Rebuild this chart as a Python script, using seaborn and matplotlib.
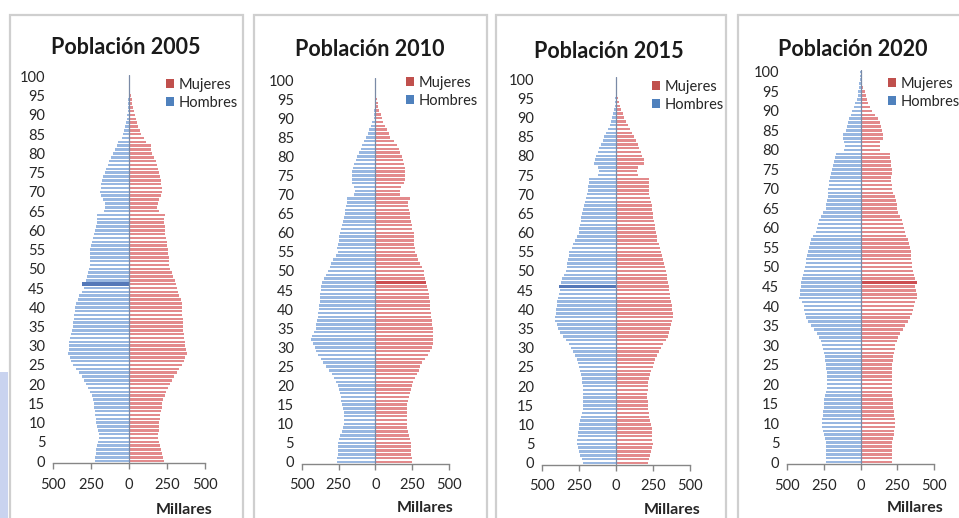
import matplotlib
matplotlib.use("Agg")
import matplotlib.pyplot as plt
from matplotlib.patches import Rectangle, Patch
import numpy as np
import pandas as pd
import seaborn as sns

# ---------------- data (thousands of people, ages 0..100) ----------------
ages = list(range(0, 101))
years = [2005, 2010, 2015, 2020]

hombres_2005 = [224, 222, 218, 214, 208, 202, 198, 200, 206, 212,
                218, 220, 222, 226, 230, 233, 238, 245, 255, 268,
                280, 295, 312, 330, 350, 369, 380, 390, 400, 398,
                396, 392, 386, 380, 375, 369, 366, 364, 362, 358,
                355, 348, 338, 326, 312, 296, 307, 285, 276, 268,
                262, 258, 256, 258, 256, 256, 250, 244, 236, 229,
                222, 216, 212, 208, 212, 165, 158, 160, 172, 185,
                188, 186, 182, 176, 168, 158, 150, 140, 130, 120,
                108, 95, 82, 70, 48, 40, 33, 27, 21, 16,
                12, 9, 7, 5, 4, 3, 2, 1, 1, 1, 1]
mujeres_2005 = [227, 222, 216, 210, 204, 198, 193, 193, 196, 198,
                200, 203, 206, 210, 214, 220, 226, 234, 244, 256,
                268, 282, 298, 315, 332, 348, 360, 370, 380, 376,
                371, 368, 364, 360, 358, 356, 354, 352, 351, 350,
                349, 346, 340, 332, 324, 316, 312, 300, 290, 280,
                268, 264, 262, 262, 258, 256, 252, 248, 244, 240,
                236, 234, 232, 230, 240, 196, 186, 188, 200, 212,
                216, 215, 212, 208, 204, 198, 192, 184, 176, 166,
                150, 146, 142, 110, 96, 82, 72, 62, 54, 48,
                42, 34, 28, 22, 17, 12, 9, 6, 4, 3, 2]

hombres_2010 = [260, 258, 256, 254, 255, 255, 248, 238, 228, 220,
                214, 212, 212, 214, 218, 225, 230, 236, 242, 248,
                255, 266, 280, 296, 318, 338, 355, 372, 390, 405,
                413, 425, 435, 430, 418, 406, 400, 396, 392, 388,
                383, 380, 378, 376, 374, 372, 368, 362, 350, 336,
                322, 310, 300, 285, 270, 255, 258, 256, 250, 244,
                237, 232, 226, 220, 214, 207, 203, 199, 195, 192,
                146, 140, 145, 158, 160, 158, 156, 150, 142, 132,
                124, 112, 100, 88, 74, 61, 50, 40, 30, 20,
                11, 8, 6, 4, 3, 2, 1, 1, 1, 1, 0.5]
mujeres_2010 = [248, 246, 244, 242, 242, 241, 236, 228, 220, 216,
                214, 212, 212, 213, 214, 214, 220, 226, 234, 241,
                248, 258, 270, 282, 294, 304, 320, 338, 356, 372,
                383, 390, 394, 393, 391, 390, 386, 382, 378, 375,
                372, 370, 368, 366, 363, 360, 352, 345, 340, 333,
                327, 318, 305, 292, 280, 270, 268, 265, 262, 260,
                259, 252, 246, 240, 236, 232, 228, 224, 220, 237,
                169, 164, 172, 192, 200, 203, 203, 200, 196, 188,
                180, 170, 158, 144, 128, 101, 90, 78, 66, 55,
                45, 36, 28, 21, 15, 10, 7, 5, 3, 2, 1]

hombres_2015 = [221, 230, 240, 250, 258, 266, 262, 258, 254, 250,
                248, 244, 238, 232, 226, 221, 220, 220, 222, 224,
                225, 228, 232, 238, 245, 252, 258, 266, 278, 290,
                304, 320, 340, 360, 380, 394, 402, 410, 410, 408,
                406, 402, 396, 390, 384, 379, 386, 372, 362, 350,
                338, 332, 328, 324, 320, 315, 300, 290, 275, 262,
                252, 248, 244, 238, 234, 230, 224, 218, 212, 205,
                198, 192, 188, 184, 180, 124, 118, 125, 146, 142,
                135, 125, 114, 102, 90, 79, 66, 54, 42, 33,
                27, 20, 14, 9, 6, 4, 3, 2, 1, 1, 0.5]
mujeres_2015 = [214, 222, 230, 238, 244, 248, 246, 244, 242, 240,
                237, 232, 226, 220, 216, 214, 213, 212, 212, 213,
                214, 218, 224, 230, 238, 248, 255, 264, 275, 290,
                304, 320, 336, 350, 360, 365, 372, 380, 383, 382,
                379, 376, 372, 368, 364, 360, 356, 350, 345, 342,
                338, 332, 326, 318, 310, 304, 296, 288, 280, 275,
                270, 266, 262, 256, 252, 248, 244, 240, 234, 230,
                225, 224, 222, 221, 221, 146, 140, 148, 192, 190,
                176, 168, 158, 146, 134, 124, 110, 96, 82, 68,
                56, 45, 35, 26, 19, 13, 9, 6, 4, 2, 1]

hombres_2020 = [238, 236, 236, 238, 238, 238, 242, 250, 258, 262,
                265, 262, 258, 254, 250, 249, 245, 240, 234, 230,
                227, 226, 228, 230, 234, 238, 240, 244, 250, 255,
                261, 270, 282, 298, 318, 340, 356, 368, 376, 382,
                385, 398, 415, 414, 411, 408, 405, 398, 390, 384,
                379, 374, 370, 366, 360, 351, 342, 335, 320, 305,
                295, 288, 280, 268, 256, 238, 232, 228, 224, 222,
                220, 216, 212, 206, 202, 197, 190, 182, 175, 165,
                113, 108, 110, 120, 118, 102, 94, 86, 76, 66,
                57, 46, 36, 27, 20, 16, 11, 7, 5, 3, 2]
mujeres_2020 = [211, 212, 214, 215, 215, 215, 220, 226, 230, 234,
                234, 232, 230, 226, 222, 220, 218, 215, 213, 211,
                211, 212, 213, 214, 215, 215, 218, 224, 230, 234,
                238, 246, 258, 272, 290, 306, 322, 338, 350, 358,
                362, 374, 383, 382, 378, 374, 385, 370, 362, 356,
                351, 348, 346, 344, 342, 340, 330, 320, 310, 302,
                295, 288, 280, 270, 258, 249, 245, 240, 232, 224,
                215, 212, 210, 210, 211, 211, 208, 205, 204, 204,
                136, 130, 134, 150, 150, 147, 140, 130, 118, 98,
                75, 64, 54, 44, 36, 28, 20, 13, 8, 5, 3]

hombres = [hombres_2005, hombres_2010, hombres_2015, hombres_2020]
mujeres = [mujeres_2005, mujeres_2010, mujeres_2015, mujeres_2020]

# bars that appear darker in the source (series, age)
destacados = [("Hombres", 46), ("Mujeres", 47), ("Hombres", 46), ("Mujeres", 46)]

x_ticks = [-500, -250, 0, 250, 500]
x_ticklabels = ["500", "250", "0", "250", "500"]
y_ticks = list(range(0, 101, 5))

# ---------------- styling ----------------
sns.set_style("white")
plt.rcParams["font.family"] = ["Lato", "DejaVu Sans"]

C_H = "#98b7e1"
C_H_DARK = "#5478b8"
C_M = "#e38a8c"
C_M_DARK = "#cc4e52"
LEG_H = "#4f81bd"
LEG_M = "#c0504d"
AXIS_C = "#868686"
TXT = "#262626"

W, H = 959, 518
fig = plt.figure(figsize=(W / 100, H / 100), dpi=100)
fig.patch.set_facecolor("white")

# pixel layout: (x_left(-500), x_right(500), y_bottom(-0.5), y_top(100.5))
boxes = [(53, 205, 463.0, 74.6),
         (301.7, 449, 463.9, 78.1),
         (542, 690, 464.9, 77.1),
         (787, 934, 464.0, 70.0)]
frames = [(10, 243), (254, 487), (496, 726), (738, 975)]
titles = [(126, 48), (370, 50), (609, 51), (853, 49)]
legends = [(166, 78), (406, 76), (652, 80), (888, 77)]
millares = [(184, 510), (425, 508), (672, 510), (915, 508)]

# light-blue strip on the far left of the slide
fig.patches.append(Rectangle((0, 0), 8 / W, (H - 372) / H, transform=fig.transFigure,
                             facecolor="#c9d3ef", edgecolor="none", zorder=0))

for i, yr in enumerate(years):
    fx0, fx1 = frames[i]
    fig.patches.append(Rectangle((fx0 / W, -0.05), (fx1 - fx0) / W, 1.05 - 15 / H,
                                 transform=fig.transFigure, facecolor="none",
                                 edgecolor="#cfcfcf", linewidth=1.6, zorder=0))

    xl, xr, yb, yt = boxes[i]
    ax = fig.add_axes([xl / W, 1 - yb / H, (xr - xl) / W, (yb - yt) / H])
    ax.set_facecolor("none")

    hi_series, hi_age = destacados[i]
    rows, hi_rows = [], []
    for a, h, m in zip(ages, hombres[i], mujeres[i]):
        rows.append({"edad": a, "valor": -h, "serie": "Hombres"})
        rows.append({"edad": a, "valor": m, "serie": "Mujeres"})
        if a == hi_age:
            v = -h if hi_series == "Hombres" else m
            hi_rows.append({"edad": a, "valor": v, "serie": hi_series})
    df = pd.DataFrame(rows)
    df_hi = pd.DataFrame(hi_rows)

    sns.barplot(data=df, x="valor", y="edad", hue="serie",
                palette={"Hombres": C_H, "Mujeres": C_M},
                orient="y", native_scale=True, dodge=False, width=0.66,
                errorbar=None, saturation=1, legend=False, linewidth=0, ax=ax)
    sns.barplot(data=df_hi, x="valor", y="edad", hue="serie",
                palette={"Hombres": C_H_DARK, "Mujeres": C_M_DARK},
                orient="y", native_scale=True, dodge=False, width=0.95,
                errorbar=None, saturation=1, legend=False, linewidth=0, ax=ax)

    ax.set_xlim(-500, 500)
    ax.set_ylim(-0.5, 100.5)
    ax.set_xlabel("")
    ax.set_ylabel("")
    for s in ["left", "right", "top"]:
        ax.spines[s].set_visible(False)
    ax.spines["bottom"].set_color(AXIS_C)
    ax.spines["bottom"].set_linewidth(1.0)
    ax.axvline(0, color="#7a8aa6", linewidth=0.9, zorder=3)

    ax.set_xticks(x_ticks)
    ax.set_xticklabels(x_ticklabels)
    ax.set_yticks(y_ticks)
    ax.set_yticklabels([str(v) for v in y_ticks])
    ax.tick_params(axis="x", direction="out", length=4.5, width=1.0, color=AXIS_C,
                   pad=6, labelsize=10.5, labelcolor=TXT, bottom=True)
    ax.tick_params(axis="y", length=0, pad=5.5, labelsize=10.5, labelcolor=TXT, left=True)

    tx, ty = titles[i]
    fig.text(tx / W, 1 - ty / H, f"Población {yr}", ha="center", va="center",
             fontsize=15.5, fontweight="bold", color="#1a1a1a")

    mx, my = millares[i]
    fig.text(mx / W, 1 - my / H, "Millares", ha="center", va="center",
             fontsize=11.5, fontweight="bold", color=TXT)

    lx, ly = legends[i]
    handles = [Patch(facecolor=LEG_M, edgecolor="none", label="Mujeres"),
               Patch(facecolor=LEG_H, edgecolor="none", label="Hombres")]
    ax.legend(handles=handles, loc="upper left", bbox_to_anchor=(lx / W, 1 - ly / H),
              bbox_transform=fig.transFigure, frameon=False, borderpad=0,
              borderaxespad=0, handlelength=0.55, handleheight=0.55,
              handletextpad=0.35, labelspacing=0.25, fontsize=10.5,
              labelcolor=TXT)

fig.savefig("out.png", dpi=100)
